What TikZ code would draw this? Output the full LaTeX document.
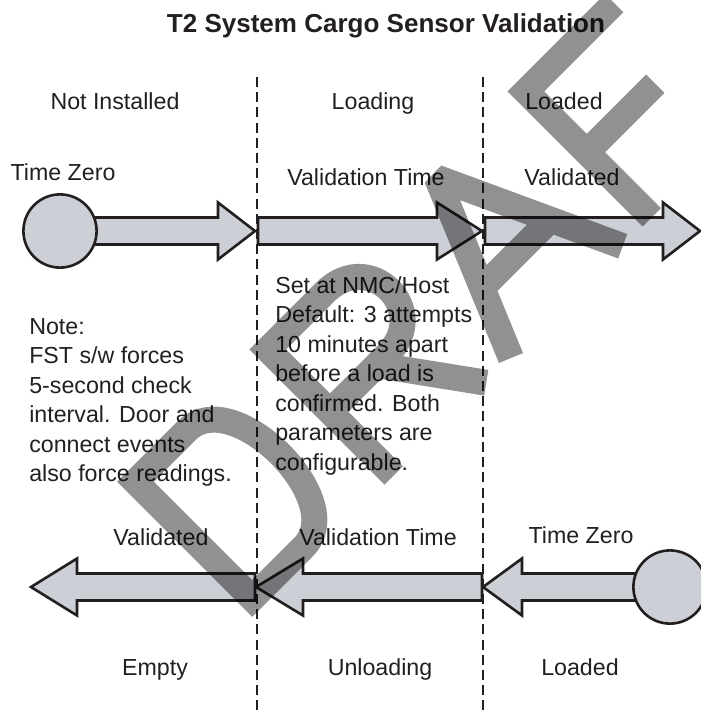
\documentclass[tikz,border=0pt]{standalone}
\usepackage{fontspec}
\setmainfont{Liberation Sans}
\usetikzlibrary{calc}

\definecolor{arrowgray}{RGB}{204,207,214}
\definecolor{inkblack}{RGB}{35,31,32}
\definecolor{draftgray}{RGB}{145,145,145}

\pgfdeclarelayer{bg}
\pgfsetlayers{bg,main}

\tikzset{
  lbl/.style={font=\fontsize{16.5}{21}\selectfont, text=inkblack, inner sep=0pt},
  heading/.style={font=\fontsize{18.5}{22}\selectfont\bfseries, text=inkblack, inner sep=0pt},
  blockarr/.style={draw=inkblack, fill=arrowgray, line width=0.065cm, line join=miter},
  timezero/.style={draw=inkblack, fill=arrowgray, circle, line width=0.065cm, minimum size=1.83cm, inner sep=0pt},
  divider/.style={draw=inkblack, line width=0.06cm, dash pattern=on 0.25cm off 0.13cm},
  draftstroke/.style={draw=draftgray, line width=0.65cm, line join=miter, miter limit=2}
}

% block arrow: tail, tip, head length
\newcommand{\blockarrow}[3]{%
  \draw[blockarr] ($(#1)+(0,-13.5)$) -- ($(#2)!#3!(#1)+(0,-13.5)$)
    -- ($(#2)!#3!(#1)+(0,-28.5)$) -- (#2) -- ($(#2)!#3!(#1)+(0,28.5)$)
    -- ($(#2)!#3!(#1)+(0,13.5)$) -- ($(#1)+(0,13.5)$) -- cycle;}

\begin{document}
\begin{tikzpicture}[x=0.025cm, y=-0.025cm]
  \useasboundingbox (0,0) rectangle (700,711);

  % Title
  \node[heading, anchor=base] (title) at (386,32) {T2 System Cargo Sensor Validation};

  % Phase dividers
  \foreach \xx in {257,483}
    \draw[divider] (\xx,77) -- (\xx,711);

  % Phase names
  \node[lbl, anchor=base] (notInstalled) at (115,109) {Not Installed};
  \node[lbl, anchor=base] (loading) at (373,109) {Loading};
  \node[lbl, anchor=base] (loadedTop) at (564,109) {Loaded};
  \node[lbl, anchor=base] (empty) at (155,675) {Empty};
  \node[lbl, anchor=base] (unloading) at (380,675) {Unloading};
  \node[lbl, anchor=base] (loadedBot) at (580,675) {Loaded};

  % Top row
  \node[timezero] (zeroTop) at (60,231) {};
  \node[lbl, anchor=base] (zeroTopLbl) at (63,180) {Time Zero};
  \node[lbl, anchor=base] (valTimeTop) at (366,185) {Validation Time};
  \node[lbl, anchor=base] (validTop) at (572,185) {Validated};
  \coordinate (tipA) at (255,231);
  \coordinate (tailB) at (258,231);
  \coordinate (tipB) at (482,231);
  \coordinate (tailC) at (485,231);
  \coordinate (tipC) at (700,231);

  % Bottom row
  \node[timezero] (zeroBot) at (670,587) {};
  \node[lbl, anchor=base] (zeroBotLbl) at (581,543) {Time Zero};
  \node[lbl, anchor=base] (valTimeBot) at (378,545) {Validation Time};
  \node[lbl, anchor=base] (validBot) at (161,545) {Validated};
  \coordinate (tipD) at (483,587);
  \coordinate (tailE) at (482,587);
  \coordinate (tipE) at (256,587);
  \coordinate (tailF) at (255,587);
  \coordinate (tipF) at (31,587);

  % Notes
  \node[lbl, anchor=north west, align=left] (loadNote) at (275,276)
    {Set at NMC/Host\\Default: 3 attempts\\10 minutes apart\\before a load is\\confirmed. Both\\parameters are\\configurable.};
  \node[lbl, anchor=north west, align=left] (fstNote) at (29,318)
    {Note:\\FST s/w forces\\5-second check\\interval. Door and\\connect events\\also force readings.};

  % Arrows
  \begin{pgfonlayer}{bg}
    \blockarrow{zeroTop}{tipA}{0.925cm}
    \blockarrow{tailB}{tipB}{1.125cm}
    \blockarrow{tailC}{tipC}{0.925cm}
    \blockarrow{zeroBot}{tipD}{0.975cm}
    \blockarrow{tailE}{tipE}{1.175cm}
    \blockarrow{tailF}{tipF}{1.15cm}
  \end{pgfonlayer}

  % Watermark
  \begin{scope}[shift={(511,358)}, rotate=45, x=0.025cm, y=0.025cm, blend mode=multiply]
    \draw[draftstroke] (-353,13) -- (-353,178) -- (-280,178)
      .. controls (-215,178) and (-215,13) .. (-280,13) -- cycle;
    \draw[draftstroke] (-166,0) -- (-166,178) -- (-85,178)
      .. controls (-22,178) and (-22,90) .. (-85,90) -- (-166,90)
      (-100,90) -- (-35,0);
    \draw[draftstroke] (0,0) -- (75,180) -- (158,0) (29,70) -- (126,70);
    \draw[draftstroke] (324,178) -- (199,178) -- (199,0) (199,92) -- (296,92);
    \draw[draftstroke] (345,178) -- (497,178) (421,178) -- (421,0);
  \end{scope}
\end{tikzpicture}
\end{document}
